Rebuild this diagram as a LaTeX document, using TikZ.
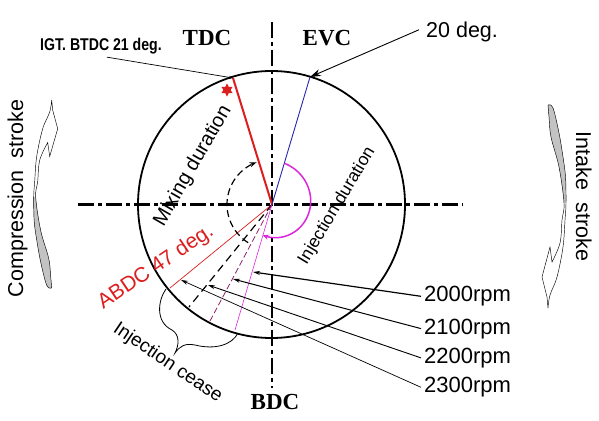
\documentclass[tikz,border=0pt]{standalone}
\usepackage{fontspec}
\usepackage{graphicx}
\setmainfont{Liberation Serif}
\newfontfamily\arialf{Liberation Sans}
\usetikzlibrary{arrows.meta,shapes.geometric,calc}
\definecolor{myred}{RGB}{220,30,30}
\definecolor{myblue}{RGB}{40,40,170}
\definecolor{mymag}{RGB}{220,40,220}
\definecolor{mypurp}{RGB}{140,30,110}
\definecolor{mygray}{RGB}{195,195,195}
\newcommand\myfs[1]{\fontsize{#1}{#1}\selectfont}
\newcommand\ribbonarrow{%
  \fill[mygray] plot[smooth,tension=0.6] coordinates {(0,-203) (5,-200) (11,-175) (15,-151) (17.5,-131) (18,-105)}
     -- plot[smooth,tension=0.6] coordinates {(16,-105) (11,-141) (3,-171) (1,-191) (0,-203)} -- cycle;
  \draw[line width=0.45pt] plot[smooth,tension=0.6] coordinates {(0,-203) (5,-200) (11,-175) (15,-151) (17.5,-131) (18,-105) (17,-88) (15,-61) (9,-31) (2,-13) (0,0)}
     -- (-1,-11) -- (-6,-31) -- (2,-61) -- (4,-46)
     -- plot[smooth,tension=0.6] coordinates {(4,-46) (12,-65) (14,-88) (16,-105) (11,-141) (3,-171) (1,-191) (0,-203)};
}
\begin{document}
\begin{tikzpicture}[x=1pt,y=-1pt,
  axis/.style={line width=2.2pt,dash pattern=on 16pt off 4pt on 4pt off 4pt},
  sans/.style={inner sep=0pt},
  serifl/.style={font=\bfseries\myfs{23}, inner sep=0pt},
  rpm/.style={font=\arialf\myfs{22}, inner sep=0pt, anchor=base west},
  rpmline/.style={-{Stealth[length=7pt,width=4pt]}, line width=0.8pt}]
\useasboundingbox[fill=white] (0,0) rectangle (599,420);
\coordinate (O) at (272,204.5);
\coordinate (igtpt) at (233,78);
\coordinate (evcpt) at (310,77);
\coordinate (abdcpt) at (170,288);
\coordinate (c1) at (189,307);
\coordinate (c2) at (210,321);
\coordinate (c3) at (235,330);
\coordinate (p2000) at (253,272);
\coordinate (p2100) at (233,279);
\coordinate (p2200) at (208,285);
\coordinate (p2300) at (181,280);
% axes and circle
\draw[axis] (78,204.5) -- (463,204.5);
\draw[axis] (272,22) -- (272,388);
\draw[line width=1.8pt] (271.5,204.5) circle[radius=133.5];
% timing lines
\draw[myred, line width=2pt] (igtpt) -- (O);
\draw[myblue, line width=0.9pt] (O) -- (evcpt);
\draw[myred, line width=0.7pt] (O) -- (abdcpt);
\draw[line width=1.2pt, dash pattern=on 8pt off 5pt] (O) -- (c1);
\draw[mypurp, line width=0.8pt, dash pattern=on 6pt off 3pt] (O) -- (c2);
\draw[mymag, line width=0.6pt] (O) -- (c3);
% arcs
\draw[mymag, line width=1.5pt, -{Stealth[length=6pt,width=5pt]}]
  plot[domain=287:467, samples=50] ({272+(43-11*(\x-287)/180)*cos(\x)}, {204.5+(43-11*(\x-287)/180)*sin(\x)});
\draw[line width=1.2pt, dash pattern=on 7pt off 4pt, -{Stealth[length=7pt,width=5pt]}]
  plot[domain=122:250, samples=40] ({272+45*cos(\x)}, {204.5+45*sin(\x)});
% star
\node[star, star points=6, star point ratio=1.8, fill=myred, minimum size=13pt, inner sep=0pt] (star) at (227,90) {};
% top labels
\node[serifl] (tdc) at (207,38) {TDC};
\node[serifl] (evc) at (327,38) {EVC};
\node[serifl] (bdc) at (275,402) {BDC};
\node[sans, font=\arialf\bfseries\myfs{17}] (igt) at (101,46) {\scalebox{0.83}[1]{IGT. BTDC 21 deg.}};
\draw[line width=0.7pt, -{Stealth[length=4pt,width=3pt]}] ($(igt.south)+(6,3)$) -- (igtpt);
\node[sans, font=\arialf\myfs{21.5}, anchor=base west] (deg20) at (426,37.3) {20 deg.};
\draw[line width=0.9pt, -{Stealth[length=11pt,width=7pt]}] ($(deg20.west)+(-7,-2)$) -- (evcpt);
% rpm labels
\node[rpm] (r2000) at (424,301.7) {2000rpm};
\node[rpm] (r2100) at (424,334) {2100rpm};
\node[rpm] (r2200) at (424,363.3) {2200rpm};
\node[rpm] (r2300) at (424,392.7) {2300rpm};
\draw[rpmline, line width=1.2pt] ($(r2000.west)+(-3,0)$) -- (p2000);
\draw[rpmline, line width=1pt] ($(r2100.west)+(-3,0)$) -- (p2100);
\draw[rpmline, line width=0.9pt] ($(r2200.west)+(-3,0)$) -- (p2200);
\draw[rpmline, line width=0.7pt] ($(r2300.west)+(-3,0)$) -- (p2300);
% brace
\draw[line width=0.8pt] (166,289) .. controls (158,300) and (155,322) .. (172,330)
  .. controls (180,335) and (179,345) .. (175,353)
  .. controls (180,346) and (185,343) .. (195,345)
  .. controls (215,350) and (232,345) .. (238,333);
% rotated labels
\node[sans, font=\arialf\myfs{20}, rotate=60] (mix) at (193,166) {Mixing duration};
\node[sans, font=\arialf\myfs{17.5}, rotate=59] (injd) at (337,206) {Injection duration};
\node[sans, font=\arialf\myfs{21}, text=myred, rotate=34, anchor=base] (abdc) at (159,272) {ABDC 47 deg.};
\node[sans, font=\arialf\myfs{19}, rotate=-34, anchor=base] (cease) at (165,367) {Injection cease};
\node[sans, font=\arialf\myfs{21.5}, rotate=90, anchor=base] (comp) at (23,198.5) {Compression\ \ stroke};
\node[sans, font=\arialf\myfs{21.5}, rotate=-90, anchor=base] (intake) at (576,196.5) {Intake\ \ stroke};
% side ribbon arrows
\begin{scope}[shift={(548,308)}]
  \ribbonarrow
\end{scope}
\begin{scope}[shift={(51.7,100)}, rotate=180, yscale=0.926]
  \ribbonarrow
\end{scope}
\end{tikzpicture}
\end{document}
